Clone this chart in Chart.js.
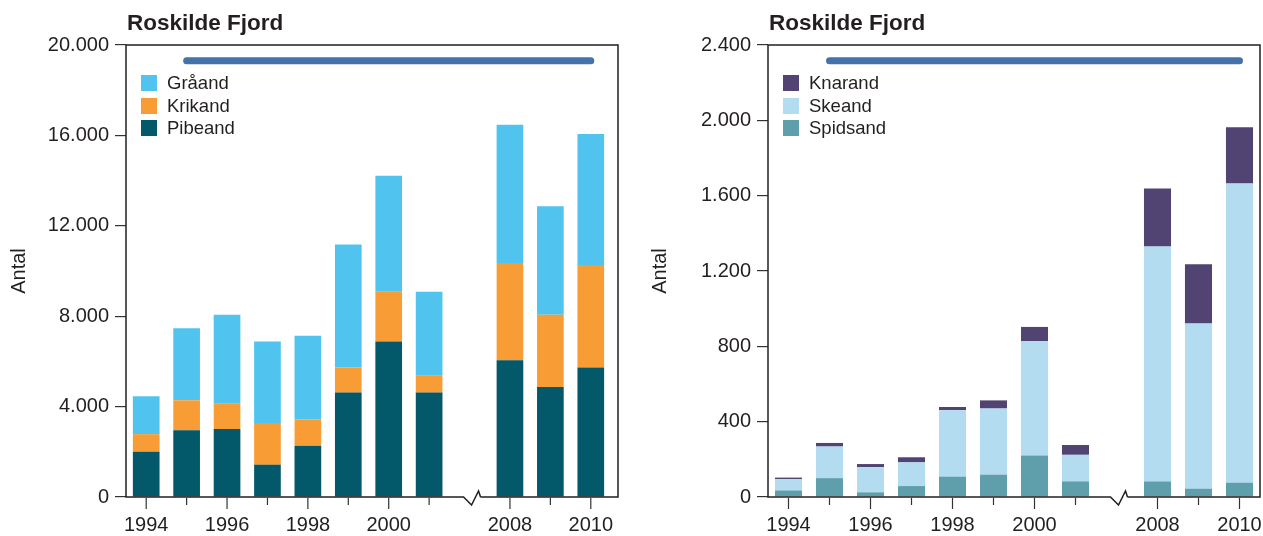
<!DOCTYPE html>
<html>
<head>
<meta charset="utf-8">
<script src="https://cdn.jsdelivr.net/npm/chart.js@4"></script>
<style>
  html, body { margin: 0; padding: 0; background: #fff; overflow: hidden; }
  body { width: 1263px; height: 536px; position: relative; font-family: "Liberation Sans", Arial, Helvetica, sans-serif; color: #231f20; }
  .panel { position: absolute; top: 0; height: 536px; }
  .panel canvas { position: absolute; left: 0; top: 0; }
  .title { position: absolute; top: 12px; font-weight: bold; font-size: 22.5px; line-height: 22px; white-space: nowrap; }
  .legend { position: absolute; top: 75px; font-size: 18.5px; }
  .legend-row { display: flex; align-items: center; height: 16px; margin-bottom: 6.5px; white-space: nowrap; }
  .legend-box { width: 16px; height: 16px; margin-right: 10px; }
</style>
</head>
<body>
<div class="panel" id="panel-left" style="left:0; width:632px;">
  <canvas id="chart-left"></canvas>
  <div class="title" style="left:127px;">Roskilde Fjord</div>
  <div class="legend" id="legend-left" style="left:141px;"></div>
</div>
<div class="panel" id="panel-right" style="left:632px; width:631px;">
  <canvas id="chart-right"></canvas>
  <div class="title" style="left:137px;">Roskilde Fjord</div>
  <div class="legend" id="legend-right" style="left:151px;"></div>
</div>
<script>
// years on the x axis, '' marks the break between 2001 and 2008
const YEARS = ['1994', '1995', '1996', '1997', '1998', '1999', '2000', '2001', '', '2008', '2009', '2010'];

// left panel
const PIBEAND = [2000, 2950, 3010, 1430, 2270, 4620, 6880, 4620, null, 6050, 4870, 5730];
const KRIKAND = [780, 1330, 1120, 1840, 1170, 1110, 2200, 770, null, 4300, 3190, 4530];
const GRAAAND = [1680, 3190, 3930, 3610, 3700, 5440, 5140, 3690, null, 6120, 4800, 5800];
const LEFT_TICKS = [0, 4000, 8000, 12000, 16000, 20000];

// right panel
const SPIDSAND = [35, 100, 25, 58, 108, 119, 220, 83, null, 83, 44, 76];
const SKEAND = [60, 168, 134, 126, 353, 351, 608, 141, null, 1247, 877, 1588];
const KNARAND = [8, 19, 16, 27, 17, 43, 75, 52, null, 308, 315, 299];
const RIGHT_TICKS = [0, 400, 800, 1200, 1600, 2000, 2400];

// blue period bar across the top
const PERIOD = ['1995', '2010'];
const PERIOD_LEVEL_LEFT = 19300;
const PERIOD_LEVEL_RIGHT = 2317;

const FONT = '"Liberation Sans", Arial, Helvetica, sans-serif';
const INK = '#231f20';
const GAP = YEARS.indexOf('');

function fmt(v) {
  return String(v).replace(/\B(?=(\d{3})+(?!\d))/g, '.');
}

var framePlugin = {
  id: 'frame',
  afterDraw: function(chart, args, opts) {
    var ctx = chart.ctx;
    var a = chart.chartArea;
    var x = chart.scales.x;
    var right = a.right + (opts.extraRight || 0);
    var b = a.bottom;
    var gx = x.getPixelForValue(GAP) + 2;
    ctx.save();
    ctx.strokeStyle = INK;
    ctx.lineWidth = 1.5;
    ctx.lineJoin = 'miter';
    ctx.beginPath();
    ctx.moveTo(gx + 9, b);
    ctx.lineTo(right, b);
    ctx.lineTo(right, a.top);
    ctx.lineTo(a.left, a.top);
    ctx.lineTo(a.left, b);
    ctx.lineTo(gx - 8, b);
    ctx.lineTo(gx, b + 8);
    ctx.lineTo(gx + 7, b - 6);
    ctx.lineTo(gx + 9, b);
    ctx.stroke();

    // x tick marks, longer under labelled years
    ctx.strokeStyle = '#333';
    ctx.lineWidth = 1.2;
    YEARS.forEach(function(y, i) {
      if (!y) return;
      var px = x.getPixelForValue(i);
      var len = (parseInt(y, 10) % 2 === 0) ? 12 : 8;
      ctx.beginPath();
      ctx.moveTo(px, b + 1);
      ctx.lineTo(px, b + len);
      ctx.stroke();
    });
    ctx.restore();
  }
};

function makeLegend(id, datasets) {
  var el = document.getElementById(id);
  datasets.slice().reverse().forEach(function(ds) {
    var row = document.createElement('div');
    row.className = 'legend-row';
    var box = document.createElement('span');
    box.className = 'legend-box';
    box.style.background = ds.backgroundColor;
    var txt = document.createElement('span');
    txt.textContent = ds.label;
    row.appendChild(box);
    row.appendChild(txt);
    el.appendChild(row);
  });
}

function barSet(label, data, color) {
  return {
    type: 'bar',
    label: label,
    data: data,
    backgroundColor: color,
    borderWidth: 0,
    stack: 'birds',
    categoryPercentage: 1,
    barPercentage: 0.66,
  };
}

function makeChart(canvasId, legendId, bars, ticks, level, yWidth, padRight, extraRight, titlePad) {
  var periodSet = {
    type: 'line',
    label: 'period',
    data: PERIOD.map(function(y) { return { x: y, y: level }; }),
    borderColor: '#4472a9',
    borderWidth: 7,
    borderCapStyle: 'round',
    pointRadius: 0,
    stack: 'period',
    order: -1,
  };
  makeLegend(legendId, bars);
  return new Chart(document.getElementById(canvasId), {
    data: { labels: YEARS, datasets: bars.concat([periodSet]) },
    plugins: [framePlugin],
    options: {
      responsive: true,
      maintainAspectRatio: false,
      animation: false,
      layout: { padding: { top: 45, right: padRight, left: 0, bottom: 0 } },
      scales: {
        x: {
          stacked: true,
          grid: { display: false, drawTicks: false },
          border: { display: false },
          ticks: {
            autoSkip: false,
            maxRotation: 0,
            padding: 16,
            color: INK,
            font: { family: FONT, size: 20 },
            callback: function(v, i) {
              var y = YEARS[i];
              return (y && parseInt(y, 10) % 2 === 0) ? y : '';
            },
          },
          afterFit: function(s) {
            s.height = 39;
            s.paddingLeft = 0;
            s.paddingRight = 0;
          },
        },
        y: {
          stacked: true,
          min: ticks[0],
          max: ticks[ticks.length - 1],
          afterBuildTicks: function(s) { s.ticks = ticks.map(function(v) { return { value: v }; }); },
          grid: { drawOnChartArea: false, drawTicks: true, tickLength: 11, color: '#333', lineWidth: 1.2 },
          border: { display: false },
          ticks: {
            padding: 6,
            color: INK,
            font: { family: FONT, size: 20 },
            callback: function(v) { return fmt(v); },
          },
          title: {
            display: true,
            text: 'Antal',
            color: INK,
            font: { family: FONT, size: 20 },
            padding: { top: titlePad, bottom: 0 },
          },
          afterFit: function(s) { s.width = yWidth; },
        },
      },
      plugins: {
        legend: { display: false },
        tooltip: { enabled: false },
        frame: { extraRight: extraRight },
      },
    },
  });
}

makeChart('chart-left', 'legend-left', [
  barSet('Pibeand', PIBEAND, '#03586a'),
  barSet('Krikand', KRIKAND, '#f89d35'),
  barSet('Gråand', GRAAAND, '#50c4ee'),
], LEFT_TICKS, PERIOD_LEVEL_LEFT, 126, 21, 7, 7);

makeChart('chart-right', 'legend-right', [
  barSet('Spidsand', SPIDSAND, '#5f9eab'),
  barSet('Skeand', SKEAND, '#b3dcf1'),
  barSet('Knarand', KNARAND, '#524472'),
], RIGHT_TICKS, PERIOD_LEVEL_RIGHT, 136, 3, 0, 16.7);
</script>
</body>
</html>
